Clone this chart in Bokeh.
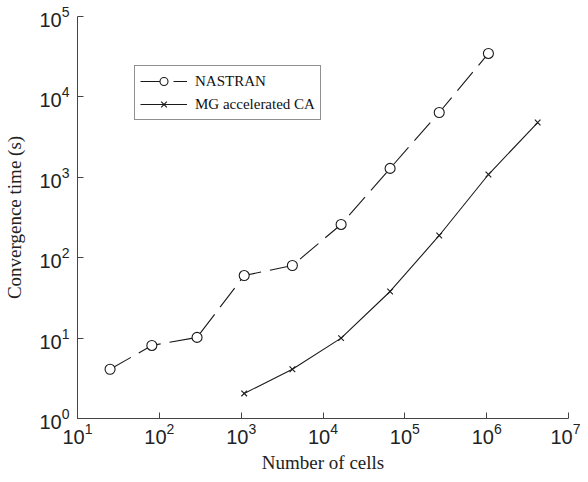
from bokeh.plotting import figure
from bokeh.models import Range1d, FixedTicker, Legend, LegendItem
from bokeh.embed import file_html
from bokeh.resources import INLINE

# Data
nastran_cells = [25, 81, 289, 1089, 4225, 16641, 66049, 263169, 1050625]
nastran_time = [4.1, 8.1, 10.2, 60, 80, 259, 1290, 6400, 34700]
mg_cells = [1089, 4225, 16641, 66049, 263169, 1050625, 4198401]
mg_time = [2.05, 4.1, 10.0, 38, 189, 1083, 4800]
x_ticks = [1e1, 1e2, 1e3, 1e4, 1e5, 1e6, 1e7]
y_ticks = [1e0, 1e1, 1e2, 1e3, 1e4, 1e5]

p = figure(frame_width=491, frame_height=402, x_axis_type="log", y_axis_type="log",
           x_range=Range1d(10, 1e7), y_range=Range1d(1, 1e5),
           output_backend="svg", toolbar_location=None,
           min_border_left=77, min_border_right=12, min_border_top=16,
           min_border_bottom=50)
p.outline_line_color = None
p.xgrid.visible = False
p.ygrid.visible = False
p.background_fill_color = "white"

for ax, ticks in ((p.xaxis, x_ticks), (p.yaxis, y_ticks)):
    ax.ticker = FixedTicker(ticks=ticks, minor_ticks=[])
    ax.axis_line_color = "#444444"
    ax.axis_line_width = 1
    ax.major_tick_line_color = "#444444"
    ax.major_tick_in = 6
    ax.major_tick_out = 0
    ax.minor_tick_in = 0
    ax.minor_tick_out = 0
    ax.major_label_text_font = "Liberation Sans"
    ax.major_label_text_font_size = "20px"
    ax.major_label_text_color = "#222222"
    ax.axis_label_text_font = "Liberation Serif"
    ax.axis_label_text_font_size = "19px"
    ax.axis_label_text_font_style = "normal"
    ax.axis_label_text_color = "#222222"

p.xaxis.axis_label = "Number of cells"
p.yaxis.axis_label = "Convergence time (s)"
p.xaxis.major_label_standoff = 4
p.yaxis.major_label_standoff = 8
p.xaxis.axis_label_standoff = 5
p.yaxis.axis_label_standoff = 11

lc = "#1a1a1a"
l1 = p.line(nastran_cells, nastran_time, line_color=lc, line_width=1.1, line_dash="24 9")
s1 = p.scatter(nastran_cells, nastran_time, marker="circle", size=10,
               line_color=lc, fill_color="white", line_width=1.1)
l2 = p.line(mg_cells, mg_time, line_color=lc, line_width=1.1)
s2 = p.scatter(mg_cells, mg_time, marker="x", size=8, line_color=lc, line_width=1.1)

legend = Legend(items=[LegendItem(label="NASTRAN", renderers=[l1, s1]),
                       LegendItem(label="MG accelerated CA", renderers=[l2, s2])],
                location=(57, 298))
legend.label_text_font = "Liberation Serif"
legend.label_text_font_size = "15px"
legend.label_text_color = "#111111"
legend.glyph_width = 47
legend.glyph_height = 20
legend.label_standoff = 8
legend.spacing = 3
legend.padding = 5
legend.margin = 0
legend.border_line_color = "#222222"
legend.border_line_width = 1
legend.background_fill_alpha = 1
p.add_layout(legend, "center")

open("out.html", "w").write(file_html(p, INLINE))
